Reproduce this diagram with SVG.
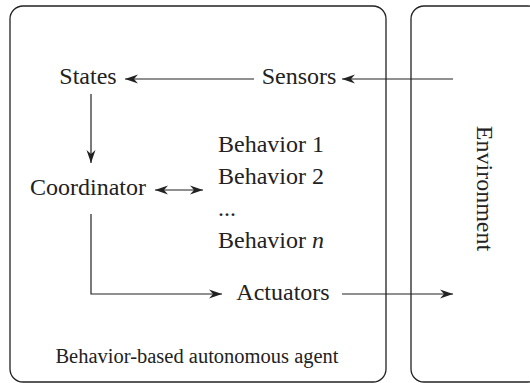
<svg xmlns="http://www.w3.org/2000/svg" width="530" height="383" viewBox="0 0 530 383">
  <style>
    .frame { fill: none; stroke: #222; stroke-width: 1.3; }
    .wire { fill: none; stroke: #222; stroke-width: 1.2; }
    text { font-family: 'Liberation Serif', 'Times New Roman', Times, serif; fill: #222; }
    .lbl { font-size: 24px; }
    .cap { font-size: 20.5px; }
  </style>
  <defs>
    <marker id="head" viewBox="-13 -5 14 10" markerWidth="14" markerHeight="10" refX="0" refY="0" orient="auto-start-reverse" markerUnits="userSpaceOnUse">
      <path d="M0,0 L-13,-4.5 L-9,0 L-13,4.5 Z" fill="#222"/>
    </marker>
  </defs>

  <rect width="530" height="383" fill="#fff"/>

  <!-- containers -->
  <g id="agent">
    <rect class="frame" x="10" y="6" width="376" height="376" rx="13"/>
    <text class="cap" x="197" y="363" text-anchor="middle" font-family="Liberation Serif, serif">Behavior-based autonomous agent</text>
  </g>
  <g id="environment">
    <rect class="frame" x="411" y="6" width="130" height="376" rx="13"/>
    <text class="lbl" transform="translate(477,188.5) rotate(90)" text-anchor="middle" font-family="Liberation Serif, serif">Environment</text>
  </g>

  <!-- nodes -->
  <g id="states"><text class="lbl" x="88" y="84" text-anchor="middle" font-family="Liberation Serif, serif">States</text></g>
  <g id="sensors"><text class="lbl" x="299" y="84" text-anchor="middle" font-family="Liberation Serif, serif">Sensors</text></g>
  <g id="coordinator"><text class="lbl" x="88" y="195" text-anchor="middle" font-family="Liberation Serif, serif">Coordinator</text></g>
  <g id="behaviors" font-family="Liberation Serif, serif">
    <text class="lbl" x="218" y="152">Behavior 1</text>
    <text class="lbl" x="218" y="184">Behavior 2</text>
    <text class="lbl" x="218" y="216">...</text>
    <text class="lbl" x="218" y="248">Behavior <tspan font-style="italic">n</tspan></text>
  </g>
  <g id="actuators"><text class="lbl" x="283" y="300" text-anchor="middle" font-family="Liberation Serif, serif">Actuators</text></g>

  <!-- connectors -->
  <g id="connectors">
    <line class="wire" x1="453" y1="79" x2="342" y2="79" marker-end="url(#head)"/>
    <line class="wire" x1="254" y1="79" x2="125" y2="79" marker-end="url(#head)"/>
    <line class="wire" x1="91" y1="94" x2="91" y2="163" marker-end="url(#head)"/>
    <line class="wire" x1="155" y1="190" x2="203" y2="190" marker-start="url(#head)" marker-end="url(#head)"/>
    <polyline class="wire" points="91,214 91,294 222,294" marker-end="url(#head)"/>
    <line class="wire" x1="342" y1="294" x2="453" y2="294" marker-end="url(#head)"/>
  </g>
</svg>
